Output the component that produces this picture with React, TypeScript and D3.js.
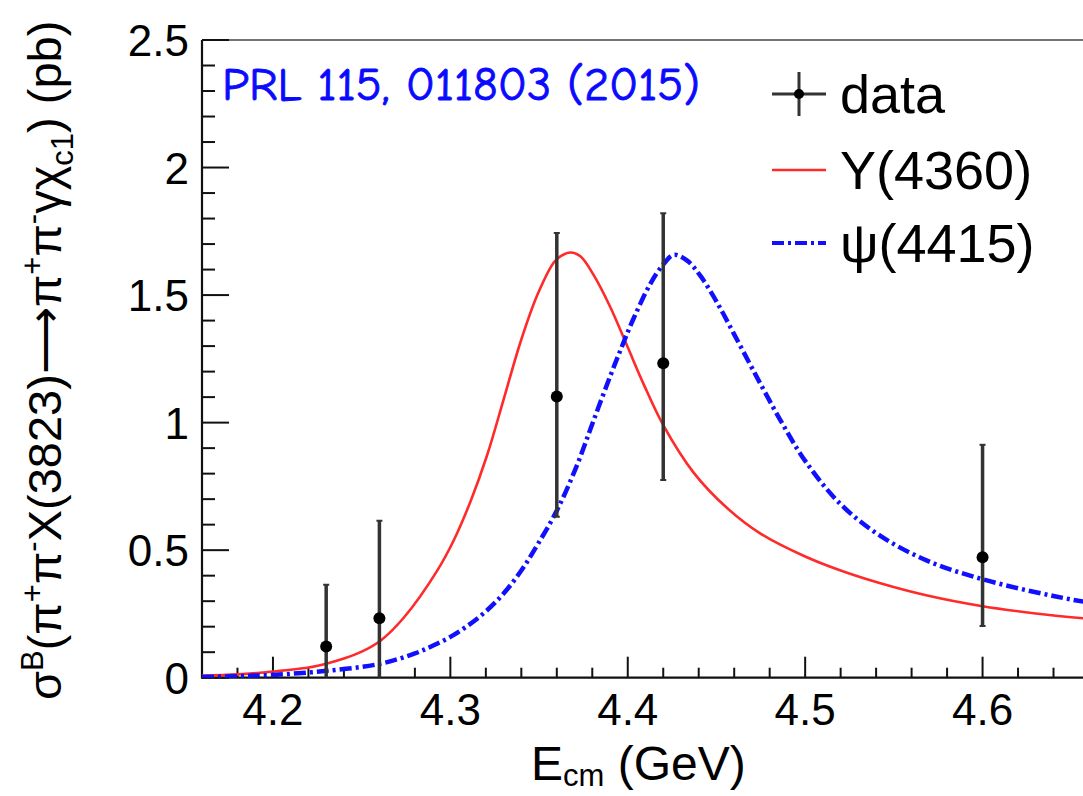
import React, { useEffect, useRef } from 'react';
import * as d3 from 'd3';

const W = 1083;
const H = 796;

// measured points (E_cm in GeV, sigma in pb)
const dataE = [4.23, 4.26, 4.36, 4.42, 4.6];
const dataSigma = [0.122, 0.233, 1.102, 1.233, 0.472];
const dataHigh = [0.364, 0.615, 1.743, 1.821, 0.913];
const dataLow = [0, 0, 0.631, 0.775, 0.203];

// Y(4360) fit curve
const yE = [4.16, 4.18, 4.2, 4.22, 4.23, 4.24, 4.25, 4.2606, 4.2737, 4.2926, 4.302, 4.3113, 4.3207, 4.33, 4.3395, 4.349, 4.3583, 4.362, 4.3677, 4.3733, 4.3808, 4.39, 4.3997, 4.409, 4.42, 4.437, 4.456, 4.4748, 4.5, 4.52, 4.5424, 4.5688, 4.6, 4.63, 4.657, 4.7];
const ySigma = [0.008, 0.013, 0.024, 0.04, 0.055, 0.075, 0.102, 0.145, 0.235, 0.42, 0.54, 0.69, 0.872, 1.09, 1.315, 1.5, 1.628, 1.652, 1.667, 1.652, 1.578, 1.455, 1.3, 1.15, 0.99, 0.805, 0.665, 0.565, 0.475, 0.42, 0.37, 0.322, 0.28, 0.252, 0.233, 0.208];

// psi(4415) fit curve
const psiE = [4.16, 4.18, 4.2, 4.229, 4.26, 4.28, 4.29, 4.3, 4.31, 4.32, 4.33, 4.34, 4.349, 4.36, 4.3715, 4.3808, 4.39, 4.3968, 4.4034, 4.4128, 4.42, 4.426, 4.4335, 4.441, 4.4504, 4.4597, 4.4692, 4.4748, 4.486, 4.5, 4.52, 4.5424, 4.57, 4.6, 4.63, 4.657, 4.7];
const psiSigma = [0.003, 0.006, 0.011, 0.026, 0.054, 0.095, 0.125, 0.16, 0.205, 0.26, 0.33, 0.42, 0.52, 0.655, 0.835, 1.01, 1.18, 1.3, 1.41, 1.545, 1.62, 1.658, 1.635, 1.575, 1.47, 1.35, 1.225, 1.152, 1.01, 0.85, 0.68, 0.556, 0.455, 0.386, 0.335, 0.298, 0.255];

const xTicks = [4.2, 4.3, 4.4, 4.5, 4.6];
const xTickLabels = ['4.2', '4.3', '4.4', '4.5', '4.6'];
const yTicks = [0, 0.5, 1, 1.5, 2, 2.5];
const yTickLabels = ['0', '0.5', '1', '1.5', '2', '2.5'];

const legendLabels = ['data', 'Y(4360)', 'ψ(4415)'];

const FONT = "'Liberation Sans', Arial, Helvetica, sans-serif";

export default function App() {
  const svgRef = useRef<SVGSVGElement | null>(null);

  useEffect(() => {
    if (!svgRef.current) return;
    const svg = d3.select(svgRef.current);
    svg.selectAll('*').remove();

    const left = 202;
    const top = 40;
    const bottom = 677.7;

    const x = d3.scaleLinear().domain([4.16, 4.7]).range([left, left + 0.54 * 1774]);
    const y = d3.scaleLinear().domain([0, 2.5]).range([bottom, top]);

    svg.append('rect').attr('width', W).attr('height', H).attr('fill', '#fff');

    svg.append('defs').append('clipPath').attr('id', 'plot')
      .append('rect').attr('x', left).attr('y', top).attr('width', W - left).attr('height', bottom - top);

    // frame
    svg.append('line').attr('x1', left).attr('x2', W).attr('y1', top).attr('y2', top)
      .attr('stroke', '#444').attr('stroke-width', 1.5);

    // minor / major ticks, pointing into the plot
    const yMinor = d3.range(0, 2.5001, 0.1);
    svg.append('g').selectAll('line').data(yMinor).enter().append('line')
      .attr('x1', left).attr('x2', (d) => (Math.abs(d / 0.5 - Math.round(d / 0.5)) < 1e-6 ? left + 27 : left + 13))
      .attr('y1', (d) => y(d)).attr('y2', (d) => y(d))
      .attr('stroke', '#111').attr('stroke-width', 2);

    const xMinor = d3.range(4.16, 4.7, 0.02);
    svg.append('g').selectAll('line').data(xMinor).enter().append('line')
      .attr('x1', (d) => x(d)).attr('x2', (d) => x(d))
      .attr('y1', bottom)
      .attr('y2', (d) => (Math.abs(d * 10 - Math.round(d * 10)) < 1e-6 ? bottom - 21 : bottom - 10))
      .attr('stroke', '#111').attr('stroke-width', 2);

    // axes lines
    svg.append('line').attr('x1', left).attr('x2', left).attr('y1', top).attr('y2', bottom + 1)
      .attr('stroke', '#111').attr('stroke-width', 2.2);
    svg.append('line').attr('x1', left).attr('x2', W).attr('y1', bottom).attr('y2', bottom)
      .attr('stroke', '#111').attr('stroke-width', 2.2);

    // tick labels
    svg.append('g').selectAll('text').data(yTicks).enter().append('text')
      .attr('x', 189).attr('y', (d) => y(d) + 16)
      .attr('text-anchor', 'end')
      .attr('font-family', FONT).attr('font-size', 44).attr('fill', '#000')
      .text((d, i) => yTickLabels[i]);

    svg.append('g').selectAll('text').data(xTicks).enter().append('text')
      .attr('x', (d) => x(d)).attr('y', 725)
      .attr('text-anchor', 'middle')
      .attr('font-family', FONT).attr('font-size', 44).attr('fill', '#000')
      .text((d, i) => xTickLabels[i]);

    // curves
    const plot = svg.append('g').attr('clip-path', 'url(#plot)');
    const line = d3.line<number>().curve(d3.curveCatmullRom.alpha(0.5));

    plot.append('path')
      .attr('d', line.x((d, i) => x(yE[i])).y((d) => y(d))(ySigma))
      .attr('fill', 'none').attr('stroke', '#ff2a2a').attr('stroke-width', 2.6);

    plot.append('path')
      .attr('d', line.x((d, i) => x(psiE[i])).y((d) => y(d))(psiSigma))
      .attr('fill', 'none').attr('stroke', '#1010ff').attr('stroke-width', 4.5)
      .attr('stroke-dasharray', '12 4 3 4');

    // data with error bars
    const pts = plot.append('g');
    dataE.forEach((e, i) => {
      pts.append('line').attr('x1', x(e)).attr('x2', x(e))
        .attr('y1', y(dataLow[i])).attr('y2', y(dataHigh[i]))
        .attr('stroke', '#333').attr('stroke-width', 3.5);
      pts.append('line').attr('x1', x(e) - 3).attr('x2', x(e) + 3)
        .attr('y1', y(dataHigh[i])).attr('y2', y(dataHigh[i]))
        .attr('stroke', '#333').attr('stroke-width', 2);
      if (dataLow[i] > 0) {
        pts.append('line').attr('x1', x(e) - 3).attr('x2', x(e) + 3)
          .attr('y1', y(dataLow[i])).attr('y2', y(dataLow[i]))
          .attr('stroke', '#333').attr('stroke-width', 2);
      }
      pts.append('circle').attr('cx', x(e)).attr('cy', y(dataSigma[i])).attr('r', 6).attr('fill', '#000');
    });

    // annotation
    svg.append('text')
      .attr('x', 222).attr('y', 100)
      .attr('font-family', "'Comic Sans MS', 'Comic Neue', 'DejaVu Sans', sans-serif")
      .attr('font-size', 46).attr('fill', '#0a0aff')
      .attr('stroke', '#0a0aff').attr('stroke-width', 0.9)
      .attr('textLength', 478).attr('lengthAdjust', 'spacingAndGlyphs')
      .text('PRL 115, 011803 (2015)');

    // legend
    const lg = svg.append('g');
    const rowY = [94, 170, 243];
    lg.append('line').attr('x1', 772).attr('x2', 826).attr('y1', rowY[0]).attr('y2', rowY[0])
      .attr('stroke', '#333').attr('stroke-width', 3);
    lg.append('line').attr('x1', 799).attr('x2', 799).attr('y1', rowY[0] - 22).attr('y2', rowY[0] + 22)
      .attr('stroke', '#333').attr('stroke-width', 3);
    lg.append('circle').attr('cx', 799).attr('cy', rowY[0]).attr('r', 5).attr('fill', '#000');
    lg.append('line').attr('x1', 772).attr('x2', 826).attr('y1', rowY[1]).attr('y2', rowY[1])
      .attr('stroke', '#ff2a2a').attr('stroke-width', 2.4);
    lg.append('line').attr('x1', 772).attr('x2', 826).attr('y1', rowY[2]).attr('y2', rowY[2])
      .attr('stroke', '#1010ff').attr('stroke-width', 4).attr('stroke-dasharray', '12 4 3 4');
    lg.selectAll('text.lab').data(legendLabels).enter().append('text')
      .attr('x', 840).attr('y', (d, i) => rowY[i] + 19)
      .attr('font-family', FONT).attr('font-size', 54).attr('fill', '#000')
      .text((d) => d);

    // x-axis title
    const xt = svg.append('text').attr('x', 531).attr('y', 780)
      .attr('font-family', FONT).attr('font-size', 48).attr('fill', '#000');
    xt.append('tspan').text('E');
    xt.append('tspan').attr('dy', 6).attr('font-size', 31).text('cm');
    xt.append('tspan').attr('dy', -6).text(' (GeV)');

    // y-axis title, rotated
    const yt = svg.append('text')
      .attr('transform', 'translate(61,700) rotate(-90)')
      .attr('font-family', FONT).attr('font-size', 47).attr('fill', '#000');
    const parts: [string, number][] = [
      ['σ', 0], ['B', -1], ['(π', 0], ['+', -1], ['π', 0], ['-', -1], ['X(3823)⟶π', 0], ['+', -1], ['π', 0], ['-', -1],
      ['γχ', 0], ['c1', 1], [') (pb)', 0],
    ];
    let shift = 0;
    parts.forEach(([t, s]) => {
      const target = s < 0 ? -18 : s > 0 ? 12 : 0;
      yt.append('tspan').attr('dy', target - shift).attr('font-size', s === 0 ? 47 : 31).text(t);
      shift = target;
    });
  }, []);

  return (
    <svg
      ref={svgRef}
      width={W}
      height={H}
      style={{ position: 'absolute', left: 0, top: 0, display: 'block' }}
    />
  );
}
